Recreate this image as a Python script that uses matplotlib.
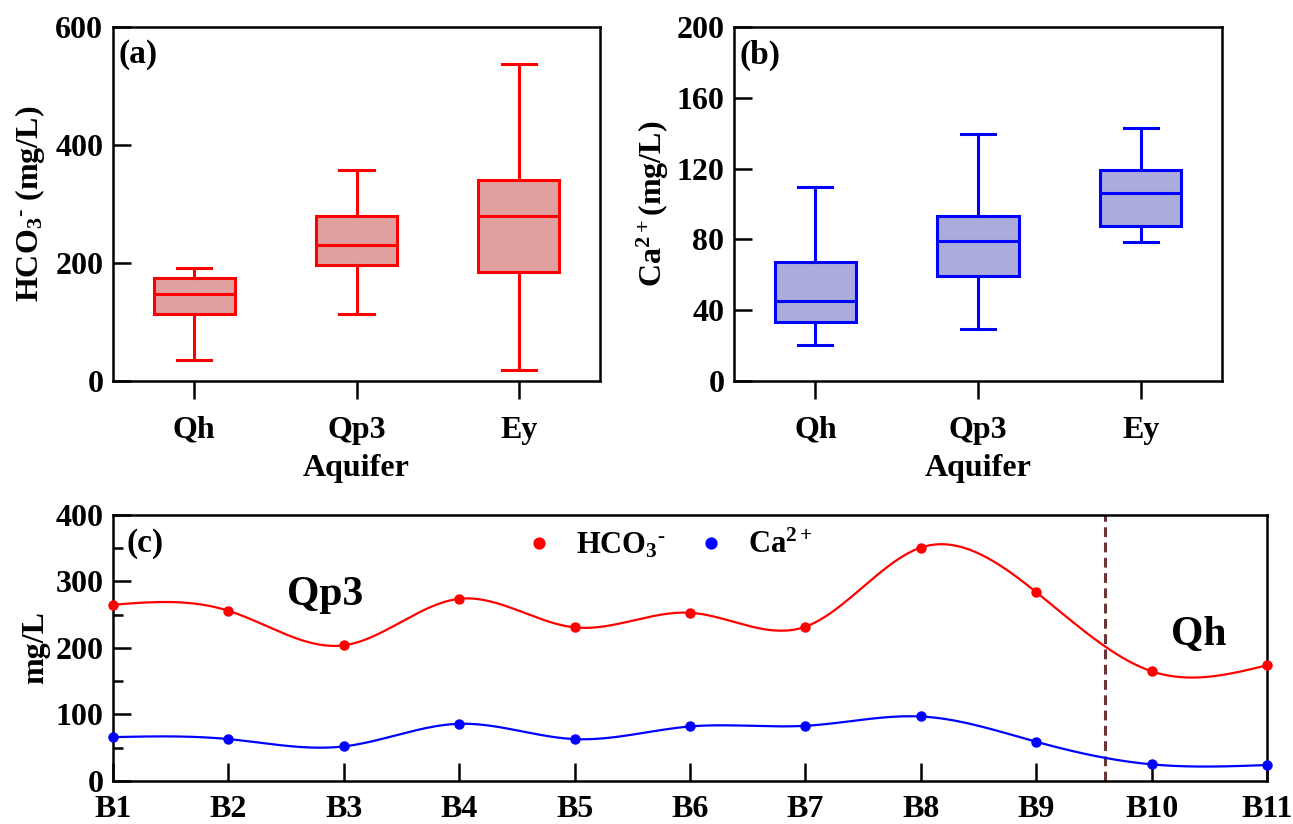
import numpy as np
import matplotlib
matplotlib.use('Agg')
import matplotlib.pyplot as plt

plt.rcParams['font.family'] = ['Liberation Serif', 'DejaVu Serif']
plt.rcParams['font.weight'] = 'bold'
plt.rcParams['axes.labelweight'] = 'bold'
plt.rcParams['mathtext.fontset'] = 'custom'
plt.rcParams['mathtext.rm'] = 'Liberation Serif:bold'
plt.rcParams['mathtext.it'] = 'Liberation Serif:bold'
plt.rcParams['mathtext.bf'] = 'Liberation Serif:bold'
plt.rcParams['axes.linewidth'] = 1.8

# box statistics per aquifer (whisker low, Q1, median, Q3, whisker high)
aquifers = ['Qh', 'Qp3', 'Ey']
hco3_low = [36, 113, 18]
hco3_q1 = [113, 197, 185]
hco3_med = [148, 230, 279]
hco3_q3 = [174, 280, 341]
hco3_high = [192, 358, 537]

ca_low = [20.5, 29.4, 78.3]
ca_q1 = [33.1, 59.5, 87.7]
ca_med = [45.3, 79.2, 106.3]
ca_q3 = [67, 93.5, 119.3]
ca_high = [109.7, 139.8, 142.8]

# sampling points along the section
wells = ['B1', 'B2', 'B3', 'B4', 'B5', 'B6', 'B7', 'B8', 'B9', 'B10', 'B11']
hco3_wells = [265, 256, 204, 274, 231, 253, 232, 351, 284, 165, 174]
ca_wells = [66, 63, 52, 86, 63, 82, 83, 97, 59, 25, 24]
boundary = 8.6

FS = 23


def natural_spline(x, y, n=400):
    x = np.asarray(x, float)
    y = np.asarray(y, float)
    k = len(x)
    h = np.diff(x)
    A = np.zeros((k, k))
    b = np.zeros(k)
    A[0, 0] = 1
    A[-1, -1] = 1
    for i in range(1, k - 1):
        A[i, i - 1] = h[i - 1]
        A[i, i] = 2 * (h[i - 1] + h[i])
        A[i, i + 1] = h[i]
        b[i] = 6 * ((y[i + 1] - y[i]) / h[i] - (y[i] - y[i - 1]) / h[i - 1])
    M = np.linalg.solve(A, b)
    xs = np.linspace(x[0], x[-1], n)
    idx = np.clip(np.searchsorted(x, xs) - 1, 0, k - 2)
    x0, x1 = x[idx], x[idx + 1]
    hh = x1 - x0
    ys = (M[idx] * (x1 - xs) ** 3 / (6 * hh) + M[idx + 1] * (xs - x0) ** 3 / (6 * hh)
          + (y[idx] / hh - M[idx] * hh / 6) * (x1 - xs)
          + (y[idx + 1] / hh - M[idx + 1] * hh / 6) * (xs - x0))
    return xs, ys


def box_panel(ax, low, q1, med, q3, high, edge, fill):
    stats = []
    for i in range(len(aquifers)):
        stats.append(dict(whislo=low[i], q1=q1[i], med=med[i], q3=q3[i],
                          whishi=high[i], label=aquifers[i]))
    lw = 2.2
    ax.bxp(stats, positions=[1, 2, 3], widths=0.5, capwidths=0.21,
           showfliers=False, patch_artist=True,
           boxprops=dict(facecolor=fill, edgecolor=edge, linewidth=lw),
           medianprops=dict(color=edge, linewidth=lw),
           whiskerprops=dict(color=edge, linewidth=lw),
           capprops=dict(color=edge, linewidth=lw))
    ax.set_xlim(0.5, 3.5)
    ax.tick_params(axis='y', direction='in', length=13, width=1.8, labelsize=FS, pad=7)
    ax.tick_params(axis='x', direction='out', length=13, width=1.8, labelsize=FS, pad=12)
    ax.set_xlabel('Aquifer', fontsize=FS, labelpad=7)


fig = plt.figure(figsize=(12.93, 8.24), dpi=100)

ax1 = fig.add_axes([0.0874, 0.5376, 0.3767, 0.4296])
box_panel(ax1, hco3_low, hco3_q1, hco3_med, hco3_q3, hco3_high, '#ff0000', '#e0a0a0')
ax1.set_ylim(0, 600)
ax1.set_yticks([0, 200, 400, 600])
ax1.set_ylabel('HCO$_3$$^{\u2010}$ (mg/L)', fontsize=FS, labelpad=6)
ax1.text(0.012, 0.965, '(a)', transform=ax1.transAxes, fontsize=FS + 1, va='top')

ax2 = fig.add_axes([0.5677, 0.5376, 0.3774, 0.4296])
box_panel(ax2, ca_low, ca_q1, ca_med, ca_q3, ca_high, '#0000ff', '#ababdc')
ax2.set_ylim(0, 200)
ax2.set_yticks([0, 40, 80, 120, 160, 200])
ax2.set_ylabel('Ca$^{2+}$(mg/L)', fontsize=FS, labelpad=4)
ax2.text(0.012, 0.965, '(b)', transform=ax2.transAxes, fontsize=FS + 1, va='top')

ax3 = fig.add_axes([0.0874, 0.0522, 0.8925, 0.3228])
xpos = np.arange(len(wells))
xs, ys = natural_spline(xpos, hco3_wells)
ax3.plot(xs, ys, color='#ff0000', lw=1.6, zorder=3)
ax3.plot(xpos, hco3_wells, 'o', color='#ff0000', ms=6.5, zorder=4, clip_on=False,
         label='HCO$_3$$^{\u2010}$')
xs, ys = natural_spline(xpos, ca_wells)
ax3.plot(xs, ys, color='#0000ff', lw=1.6, zorder=3)
ax3.plot(xpos, ca_wells, 'o', color='#0000ff', ms=6.5, zorder=4, clip_on=False,
         label='Ca$^{2+}$')
ax3.axvline(boundary, color='#6b3535', lw=2.2, ls=(0, (3.2, 1.8)))
ax3.set_xlim(0, 10)
ax3.set_ylim(0, 400)
ax3.set_xticks(xpos)
ax3.set_xticklabels(wells)
ax3.set_yticks([0, 100, 200, 300, 400])
ax3.set_yticks([50, 150, 250, 350], minor=True)
ax3.tick_params(axis='both', which='major', direction='in', length=13, width=1.8,
                labelsize=FS)
ax3.tick_params(axis='y', which='major', pad=7)
ax3.tick_params(axis='x', which='major', pad=10)
ax3.tick_params(axis='y', which='minor', direction='in', length=7, width=1.8)
ax3.set_ylabel('mg/L', fontsize=FS, labelpad=4)
ax3.text(0.012, 0.95, '(c)', transform=ax3.transAxes, fontsize=FS + 1, va='top')
ax3.text(1.84, 280, 'Qp3', fontsize=30, ha='center', va='center')
ax3.text(9.41, 220, 'Qh', fontsize=30, ha='center', va='center')
ax3.legend(loc='center', bbox_to_anchor=(0.48, 0.885), ncol=2, frameon=False,
           fontsize=FS - 1, handletextpad=0.6, columnspacing=0.9, markerscale=1.2,
           handlelength=1.2)

plt.savefig('out.png', dpi=100)
